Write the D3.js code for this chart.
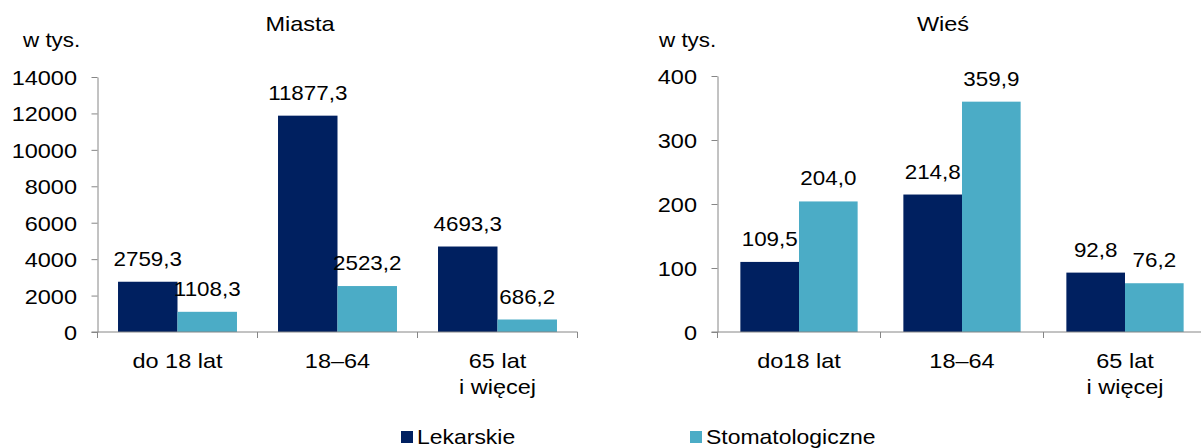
<!DOCTYPE html>
<html>
  <head>
    <style>
      html,
      body {
        margin: 0;
        padding: 0;
        background: #fff;
      }
      svg text {
        font-family: "Liberation Sans", Arial, sans-serif;
        fill: #000;
      }
    </style>
  </head>
  <body>
    <div id="viz"></div>
    <script src="https://d3js.org/d3.v7.min.js"></script>
    <script>
      const series = ["Lekarskie", "Stomatologiczne"];
      const colors = ["#002060", "#4bacc6"];

      const miastaCats = ["do 18 lat", "18–64", "65 lat\ni więcej"];
      const miastaLek = [2759.3, 11877.3, 4693.3];
      const miastaStom = [1108.3, 2523.2, 686.2];
      const miastaTicks = [0, 2000, 4000, 6000, 8000, 10000, 12000, 14000];

      const wiesCats = ["do18 lat", "18–64", "65 lat\ni więcej"];
      const wiesLek = [109.5, 214.8, 92.8];
      const wiesStom = [204.0, 359.9, 76.2];
      const wiesTicks = [0, 100, 200, 300, 400];

      const W = 1201;
      const H = 448;
      const SX = 1.12; // source picture is stretched sideways a bit
      const axisColor = "#868686";
      const fmt = (v) => v.toFixed(1).replace(".", ",");

      const svg = d3
        .select("#viz")
        .append("svg")
        .attr("width", W)
        .attr("height", H);

      // text with the same horizontal stretch as the reference
      const label = (g, x, y, str, size, anchor) =>
        g
          .append("text")
          .attr("transform", `translate(${x},${y}) scale(${SX},1)`)
          .attr("text-anchor", anchor || "middle")
          .style("font-size", size + "px")
          .text(str);

      const panel = (opts) => {
        const g = svg.append("g");
        const { left, right, top, bottom } = opts;

        const x = d3.scaleBand().domain(opts.cats).range([left, right]);
        const xs = d3
          .scaleBand()
          .domain(series)
          .range([0, x.bandwidth()])
          .paddingOuter(opts.pad);
        const y = d3
          .scaleLinear()
          .domain([0, d3.max(opts.ticks)])
          .range([bottom, top]);

        // y axis
        const ya = g
          .append("g")
          .attr("transform", `translate(${left},0)`)
          .call(
            d3
              .axisLeft(y)
              .tickValues(opts.ticks)
              .tickFormat(d3.format("d"))
              .tickSize(6)
              .tickSizeOuter(0)
              .tickPadding(12.3)
          );
        ya.selectAll("path, line").attr("stroke", axisColor);
        ya.selectAll("text")
          .attr("transform", `scale(${SX},1)`)
          .attr("dy", ".36em")
          .style("font-size", "21px")
          .style("font-family", '"Liberation Sans", Arial, sans-serif')
          .attr("fill", "#000");

        // bars
        const rows = opts.cats.map((c, i) => ({
          cat: c,
          vals: [opts.lek[i], opts.stom[i]],
        }));
        const grp = g
          .selectAll("g.cat")
          .data(rows)
          .enter()
          .append("g")
          .attr("class", "cat")
          .attr("transform", (d) => `translate(${x(d.cat)},0)`);

        grp
          .selectAll("rect")
          .data((d) => d.vals.map((v, j) => ({ s: series[j], v: v, j: j })))
          .enter()
          .append("rect")
          .attr("x", (d) => xs(d.s))
          .attr("width", xs.bandwidth())
          .attr("y", (d) => y(d.v))
          .attr("height", (d) => bottom - y(d.v))
          .attr("fill", (d) => colors[d.j]);

        grp.each(function (d) {
          const gg = d3.select(this);
          d.vals.forEach((v, j) => {
            label(
              gg,
              xs(series[j]) + xs.bandwidth() / 2,
              y(v) - 16,
              fmt(v),
              20
            );
          });
          // category label
          const lines = d.cat.split("\n");
          lines.forEach((ln, k) => {
            label(gg, x.bandwidth() / 2, bottom + 36 + k * 26, ln, 21);
          });
        });

        // x axis line and separators
        g.append("line")
          .attr("x1", left - 6)
          .attr("x2", right)
          .attr("y1", bottom)
          .attr("y2", bottom)
          .attr("stroke", axisColor);
        const seps = opts.cats.map((c) => x(c)).concat([right]);
        g.selectAll("line.sep")
          .data(seps)
          .enter()
          .append("line")
          .attr("class", "sep")
          .attr("x1", (d) => d)
          .attr("x2", (d) => d)
          .attr("y1", bottom)
          .attr("y2", bottom + 6)
          .attr("stroke", axisColor);

        label(g, opts.titleX, 31, opts.title, 21);
        label(g, opts.unitX, 47, "w tys.", 20, "start");
      };

      panel({
        cats: miastaCats,
        lek: miastaLek,
        stom: miastaStom,
        ticks: miastaTicks,
        left: 97.5,
        right: 577.5,
        top: 77,
        bottom: 332,
        pad: 0.345,
        title: "Miasta",
        titleX: 300,
        unitX: 23,
      });

      panel({
        cats: wiesCats,
        lek: wiesLek,
        stom: wiesStom,
        ticks: wiesTicks,
        left: 717.5,
        right: 1206.5,
        top: 76,
        bottom: 332,
        pad: 0.39,
        title: "Wieś",
        titleX: 943,
        unitX: 659,
      });

      // legend
      const legX = [401, 690];
      const leg = svg
        .selectAll("g.leg")
        .data(series)
        .enter()
        .append("g")
        .attr("class", "leg")
        .attr("transform", (d, i) => `translate(${legX[i]},431)`);
      leg
        .append("rect")
        .attr("width", 12)
        .attr("height", 12)
        .attr("fill", (d, i) => colors[i]);
      leg.each(function (d) {
        label(d3.select(this), 16, 13, d, 20.5, "start");
      });
    </script>
  </body>
</html>
